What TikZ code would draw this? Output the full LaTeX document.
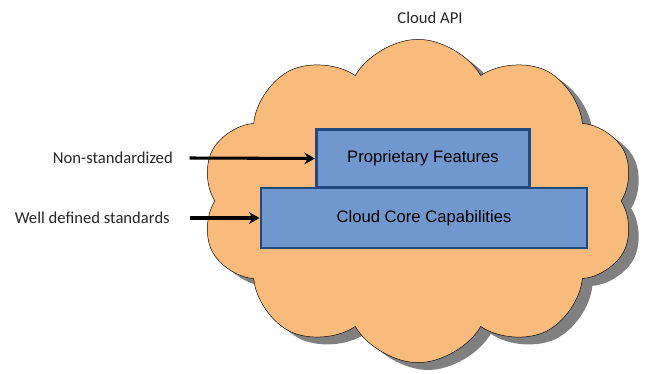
\documentclass[tikz,border=0pt]{standalone}
\usepackage{fontspec}
\setmainfont{Carlito}
\newfontfamily\boxfont{Liberation Sans}
\usetikzlibrary{shapes.symbols}
\usetikzlibrary{shadows}
\usetikzlibrary{arrows.meta}

\definecolor{cloudfill}{RGB}{248,187,124}
\definecolor{boxfill}{RGB}{112,152,206}
\definecolor{boxline}{RGB}{32,74,128}

\tikzset{
  label/.style={font=\fontsize{14.2}{16}\selectfont, text=black!85},
  layerbox/.style={draw=boxline, line width=2.4pt, fill=boxfill,
    font=\boxfont\fontsize{14.2}{16}\selectfont, inner sep=0pt},
  feed/.style={line width=2.6pt, -{Stealth[length=9pt,width=10pt]}}
}

\begin{document}
\begin{tikzpicture}[x=0.03cm,y=-0.03cm]
\useasboundingbox (0,0) rectangle (650,374);
% the cloud
\node[cloud, cloud puffs=10, cloud puff arc=120, cloud ignores aspect,
  minimum width=13.0cm, minimum height=9.7cm, draw=black, thin, fill=cloudfill,
  drop shadow={shadow xshift=0.3cm, shadow yshift=-0.22cm, fill=black!50, opacity=1}]
  (cloud) at (418,201) {};
\node[label] (api) at (430,18) {Cloud API};
% layers
\node[layerbox, minimum width=9.78cm, minimum height=1.8cm] (core) at (424,218) {Cloud Core Capabilities};
\node[layerbox, minimum width=6.4cm, minimum height=1.74cm] (prop) at (423,158.5) {Proprietary Features};
% labels
\node[label, anchor=east, inner sep=0pt] (nonstd) at (173,158) {Non-standardized};
\node[label, anchor=east, inner sep=0pt] (welldef) at (170,218) {Well defined standards};
\draw[feed] ([xshift=0.5cm]nonstd.east) -- (prop.west);
\draw[feed] ([xshift=0.6cm]welldef.east) -- (core.west);
\end{tikzpicture}
\end{document}
